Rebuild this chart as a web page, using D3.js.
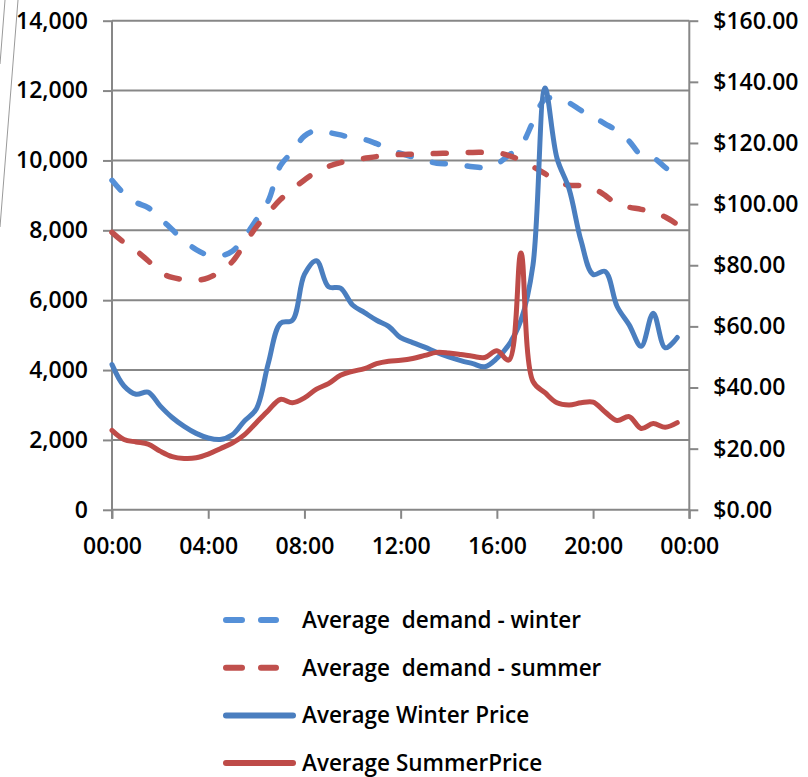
<!DOCTYPE html>
<html>
<head>
<meta charset="utf-8">
<script src="https://cdn.jsdelivr.net/npm/d3@7"></script>
<style>
  html, body { margin: 0; padding: 0; background: #fff; }
  svg { display: block; }
  text { font-family: "Open Sans", "DejaVu Sans", sans-serif; font-weight: 600; fill: #000; }
</style>
</head>
<body>
<svg id="chart" width="808" height="777"></svg>
<script>
// ---- data (half-hourly, 00:00 .. 23:30) ----
const hours = d3.range(0, 24, 0.5);
const demandWinter = [9430, 9050, 8800, 8650, 8350, 8020, 7700, 7450, 7290, 7270, 7400, 7800,
  8300, 8850, 9850, 10250, 10700, 10860, 10800, 10730, 10640, 10600, 10480, 10340,
  10200, 10100, 10000, 9920, 9900, 9870, 9820, 9800, 9900, 10150, 10420, 11100,
  11750, 11780, 11650, 11430, 11250, 11050, 10850, 10550, 10150, 10080, 9800, 9550];
const demandSummer = [7940, 7650, 7420, 7130, 6800, 6650, 6590, 6570, 6640, 6820, 7100, 7600,
  8100, 8500, 8880, 9180, 9440, 9680, 9830, 9940, 10010, 10060, 10110, 10150,
  10170, 10180, 10190, 10200, 10210, 10220, 10230, 10230, 10220, 10140, 10000, 9820,
  9620, 9400, 9290, 9280, 9200, 9000, 8740, 8660, 8600, 8520, 8380, 8170];
const priceWinter = [47.5, 40.5, 37.8, 38.5, 34.0, 30.2, 27.3, 25.0, 23.5, 23.0, 24.5, 29.0,
  33.0, 48.0, 61.0, 62.0, 77.0, 81.5, 73.0, 72.5, 67.0, 64.5, 62.0, 60.0,
  56.3, 54.7, 53.2, 51.5, 50.0, 48.8, 47.8, 46.8, 49.5, 54.0, 62.0, 80.0,
  138.0, 115.0, 105.0, 88.0, 77.0, 78.0, 66.5, 60.5, 53.5, 64.3, 53.0, 56.4];
const priceSummer = [26.0, 23.0, 22.2, 21.5, 19.2, 17.4, 16.8, 17.0, 18.2, 20.0, 21.8, 24.5,
  28.5, 32.5, 36.1, 35.0, 36.6, 39.5, 41.3, 44.0, 45.3, 46.2, 47.8, 48.6,
  48.9, 49.5, 50.5, 51.5, 51.3, 50.8, 50.2, 49.8, 52.0, 49.0, 84.0, 42.0,
  38.3, 35.0, 34.3, 35.0, 35.2, 32.0, 29.2, 30.5, 26.6, 28.2, 27.0, 28.5];
const leftTicks = [0, 2000, 4000, 6000, 8000, 10000, 12000, 14000];
const rightTicks = [0, 20, 40, 60, 80, 100, 120, 140, 160];
const xTicks = [0, 4, 8, 12, 16, 20, 24];
const xTickLabels = ["00:00", "04:00", "08:00", "12:00", "16:00", "20:00", "00:00"];
const seriesNames = ["Average  demand - winter", "Average  demand - summer", "Average Winter Price", "Average SummerPrice"];

// ---- layout ----
const svg = d3.select("#chart");
const L = 112, R = 689.3, T = 20.7, B = 509.8;
const x = d3.scaleLinear().domain([0, 24]).range([L, R]);
const yL = d3.scaleLinear().domain([0, 14000]).range([B, T]);
const yR = d3.scaleLinear().domain([0, 160]).range([B, T]);
const gridColor = "#878787";

// decorative border lines at top-left
svg.append("line").attr("x1", 18).attr("y1", 0).attr("x2", 0).attr("y2", 227)
  .attr("stroke", "#9a9a9a").attr("stroke-width", 1);
svg.append("line").attr("x1", 5).attr("y1", 0).attr("x2", 0).attr("y2", 64)
  .attr("stroke", "#9a9a9a").attr("stroke-width", 1);

// gridlines
svg.append("g").selectAll("line").data(leftTicks.filter(d => d > 0)).join("line")
  .attr("x1", L).attr("x2", R).attr("y1", d => yL(d)).attr("y2", d => yL(d))
  .attr("stroke", gridColor).attr("stroke-width", 2);

// left axis
const gLeft = svg.append("g").attr("transform", `translate(${L},0)`)
  .call(d3.axisLeft(yL).tickValues(leftTicks).tickSize(9).tickPadding(15).tickFormat(d3.format(",")));
// right axis
const gRight = svg.append("g").attr("transform", `translate(${R},0)`)
  .call(d3.axisRight(yR).tickValues(rightTicks).tickSize(9).tickPadding(15).tickFormat(d3.format("$,.2f")));
// bottom axis
const gBottom = svg.append("g").attr("transform", `translate(0,${B})`)
  .call(d3.axisBottom(x).tickValues(xTicks).tickSize(9).tickPadding(19).tickFormat((d, i) => xTickLabels[i]));

[gLeft, gRight, gBottom].forEach(g => {
  g.select(".domain").attr("stroke", gridColor).attr("stroke-width", 2);
  g.selectAll(".tick line").attr("stroke", gridColor).attr("stroke-width", 2);
  g.selectAll(".tick text").attr("font-size", 23).attr("fill", "#000")
    .style("font-family", '"Open Sans", sans-serif').style("font-weight", 600);
});
gLeft.select(".domain").attr("d", `M0,${B + 9}V${T}`);
gRight.select(".domain").attr("d", `M0,${B + 9}V${T}`);
gBottom.select(".domain").attr("d", `M${L},0H${R}`);

// series
const blueDash = "#5590D8", redDash = "#C0504D", blueSolid = "#4A7EBF", redSolid = "#BE4B48";
const lineL = d3.line().x((d, i) => x(hours[i])).y(d => yL(d)).curve(d3.curveCatmullRom.alpha(0.5));
const lineR = d3.line().x((d, i) => x(hours[i])).y(d => yR(d)).curve(d3.curveCatmullRom.alpha(0.5));

const plot = svg.append("g");
plot.append("path").datum(demandWinter).attr("d", lineL).attr("fill", "none")
  .attr("stroke", blueDash).attr("stroke-width", 5.5).attr("stroke-dasharray", "13 22").attr("stroke-linecap", "round");
plot.append("path").datum(demandSummer).attr("d", lineL).attr("fill", "none")
  .attr("stroke", redDash).attr("stroke-width", 5.5).attr("stroke-dasharray", "13 22").attr("stroke-linecap", "round");
plot.append("path").datum(priceWinter).attr("d", lineR).attr("fill", "none")
  .attr("stroke", blueSolid).attr("stroke-width", 5).attr("stroke-linejoin", "round").attr("stroke-linecap", "round");
plot.append("path").datum(priceSummer).attr("d", lineR).attr("fill", "none")
  .attr("stroke", redSolid).attr("stroke-width", 5).attr("stroke-linejoin", "round").attr("stroke-linecap", "round");

// legend
const legendColors = [blueDash, redDash, blueSolid, redSolid];
const legendDash = [true, true, false, false];
const lg = svg.append("g");
const rows = lg.selectAll("g").data(seriesNames).join("g")
  .attr("transform", (d, i) => `translate(0,${620 + i * 47.7})`);
rows.append("line").attr("x1", 226).attr("x2", (d, i) => legendDash[i] ? 276 : 293)
  .attr("y1", 0).attr("y2", 0)
  .attr("stroke", (d, i) => legendColors[i]).attr("stroke-width", 6)
  .attr("stroke-linecap", "round")
  .attr("stroke-dasharray", (d, i) => legendDash[i] ? "16 19" : null);
rows.append("text").attr("x", 302).attr("y", 0).attr("dy", "0.35em")
  .attr("font-size", 22.5).style("white-space", "pre").text(d => d);
</script>
</body>
</html>
